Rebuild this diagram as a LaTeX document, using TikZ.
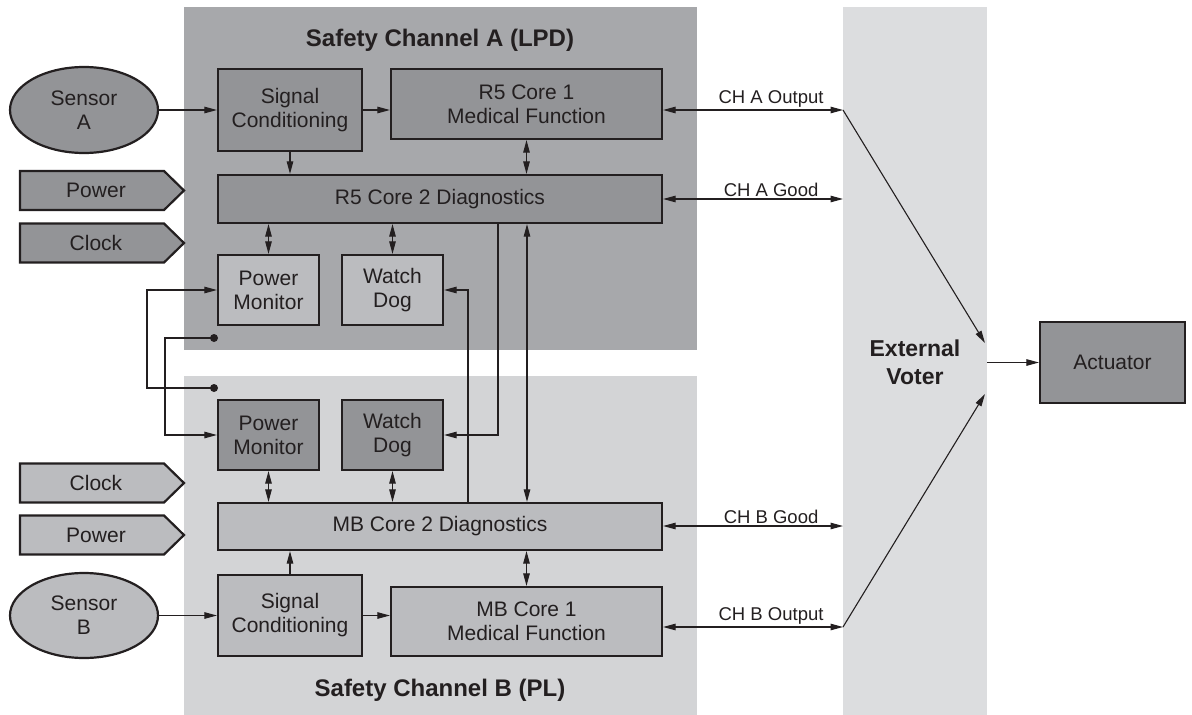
\documentclass[tikz,border=0pt]{standalone}
\usepackage{fontspec}
\setmainfont{Liberation Sans}
\usetikzlibrary{arrows.meta,shapes.geometric,calc}
\definecolor{linec}{HTML}{231F20}
\definecolor{chA}{HTML}{A7A8AB}
\definecolor{chB}{HTML}{D3D4D6}
\definecolor{voterc}{HTML}{DCDDDF}
\definecolor{darkf}{HTML}{939497}
\definecolor{lightf}{HTML}{BBBCBF}
\tikzset{
 blk/.style={draw=linec, line width=2.2pt, inner sep=0pt, align=center, text=linec, font=\fontsize{21}{24}\selectfont},
 sigshape/.style={draw=linec, line width=2.2pt},
 txt/.style={text=linec, inner sep=0pt, font=\fontsize{21}{24}\selectfont},
 ln/.style={draw=linec, line width=1.1pt},
 arr/.style={ln, -{Triangle[length=12.5pt,width=6.5pt]}},
 darr/.style={ln, {Triangle[length=12.5pt,width=6.5pt]}-{Triangle[length=12.5pt,width=6.5pt]}},
 lbl/.style={font=\fontsize{18.5}{20}\selectfont, text=linec, inner sep=2pt},
 ttl/.style={font=\bfseries\fontsize{24}{28}\selectfont, text=linec, inner sep=0pt, align=center},
}
\begin{document}
\begin{tikzpicture}[x=1pt,y=-1pt]
\fill[white] (0,0) rectangle (1192,715);
\useasboundingbox (0,0) rectangle (1192,715);
% backgrounds
\fill[chA] (184,7) rectangle (697,350);
\fill[chB] (184,376) rectangle (697,715);
\fill[voterc] (843,7) rectangle (987,715);
% titles
\node[ttl] (ttlA) at (440,40) {Safety Channel A (LPD)};
\node[ttl] (ttlB) at (440,690) {Safety Channel B (PL)};
\node[ttl, font=\bfseries\fontsize{23}{28}\selectfont] (voterT) at (915,362) {External\\Voter};
% power / clock signals
\foreach \n/\t/\y/\f in {powA/Power/190.5/darkf, clkA/Clock/243/darkf, clkB/Clock/483/lightf, powB/Power/535/lightf}{
  \draw[sigshape, fill=\f] (20,\y-19.5) -- (164,\y-19.5) -- (184,\y) -- (164,\y+19.5) -- (20,\y+19.5) -- cycle;
  \node[txt] (\n) at (96,\y) {\t};
}
% channel A blocks
\node[blk, ellipse, fill=darkf, minimum width=148pt, minimum height=86pt] (sensA) at (84,110) {Sensor\\A};
\node[blk, fill=darkf, minimum width=144pt, minimum height=82pt] (sigA) at (290,110) {Signal\\Conditioning};
\node[blk, fill=darkf, minimum width=271pt, minimum height=70pt] (coreA1) at (526.5,104) {R5 Core 1\\Medical Function};
\node[blk, fill=darkf, minimum width=444pt, minimum height=48pt] (coreA2) at (440,199) {R5 Core 2 Diagnostics};
\node[blk, fill=lightf, minimum width=101pt, minimum height=70pt] (pmA) at (268.5,290) {Power\\Monitor};
\node[blk, fill=lightf, minimum width=101pt, minimum height=70pt] (wdA) at (392.5,290) {Watch\\Dog};
% channel B blocks
\node[blk, fill=darkf, minimum width=101pt, minimum height=70pt] (pmB) at (268.5,435) {Power\\Monitor};
\node[blk, fill=darkf, minimum width=101pt, minimum height=70pt] (wdB) at (392.5,435) {Watch\\Dog};
\node[blk, fill=lightf, minimum width=444pt, minimum height=47pt] (coreB2) at (440,526.5) {MB Core 2 Diagnostics};
\node[blk, ellipse, fill=lightf, minimum width=148pt, minimum height=85pt] (sensB) at (84,615.5) {Sensor\\B};
\node[blk, fill=lightf, minimum width=144pt, minimum height=81pt] (sigB) at (290,615.5) {Signal\\Conditioning};
\node[blk, fill=lightf, minimum width=271pt, minimum height=69pt] (coreB1) at (526.5,621.5) {MB Core 1\\Medical Function};
% actuator
\node[blk, fill=darkf, minimum width=145pt, minimum height=81pt] (act) at (1112.5,362.5) {Actuator};
% coordinates
\coordinate (outA) at (843,110);
\coordinate (goodA) at (843,199);
\coordinate (goodB) at (843,526);
\coordinate (outB) at (843,627);
\coordinate (vinA) at (985,343);
\coordinate (vinB) at (985,394);
\coordinate (vout) at (987,362.5);
\coordinate (dotA) at (214,338);
\coordinate (dotB) at (214,388);
% channel A connectors
\draw[arr] (sensA) -- (sigA);
\draw[arr] (sigA.east) -- (sigA.east -| coreA1.west);
\draw[arr] (sigA.south) -- (sigA.south |- coreA2.north);
\draw[darr] (coreA1.south) -- (coreA1.south |- coreA2.north);
\draw[darr] (coreA2.south -| pmA.north) -- (pmA.north);
\draw[darr] (coreA2.south -| wdA.north) -- (wdA.north);
% channel B connectors
\draw[darr] (coreB2.north -| pmB.south) -- (pmB.south);
\draw[darr] (coreB2.north -| wdB.south) -- (wdB.south);
\draw[arr] (sigB.north) -- (sigB.north |- coreB2.south);
\draw[darr] (coreB1.north) -- (coreB1.north |- coreB2.south);
\draw[arr] (sensB) -- (sigB);
\draw[arr] (sigB.east) -- (sigB.east -| coreB1.west);
% cross links
\draw[arr] ([xshift=58pt]coreA2.south) |- (wdB.east);
\draw[arr] ([xshift=28pt]coreB2.north) |- (wdA.east);
\draw[darr] ([xshift=87pt]coreA2.south) -- ([xshift=87pt]coreB2.north);
\draw[arr] (dotA) -- ++(-49,0) |- (pmB.west);
\draw[arr] (dotB) -- ++(-67,0) |- (pmA.west);
\fill[linec] (dotA) circle (4pt);
\fill[linec] (dotB) circle (4pt);
% outputs
\draw[darr] (coreA1.east |- outA) -- node[lbl, pos=0.6, above] {CH A Output} (outA);
\draw[darr] (coreA2.east |- goodA) -- node[lbl, pos=0.6, above] {CH A Good} (goodA);
\draw[darr] (coreB2.east |- goodB) -- node[lbl, pos=0.6, above] {CH B Good} (goodB);
\draw[darr] (coreB1.east |- outB) -- node[lbl, pos=0.6, above] {CH B Output} (outB);
\draw[arr] (outA) -- (vinA);
\draw[arr] (outB) -- (vinB);
\draw[arr] (vout) -- (act.west);
\end{tikzpicture}
\end{document}
